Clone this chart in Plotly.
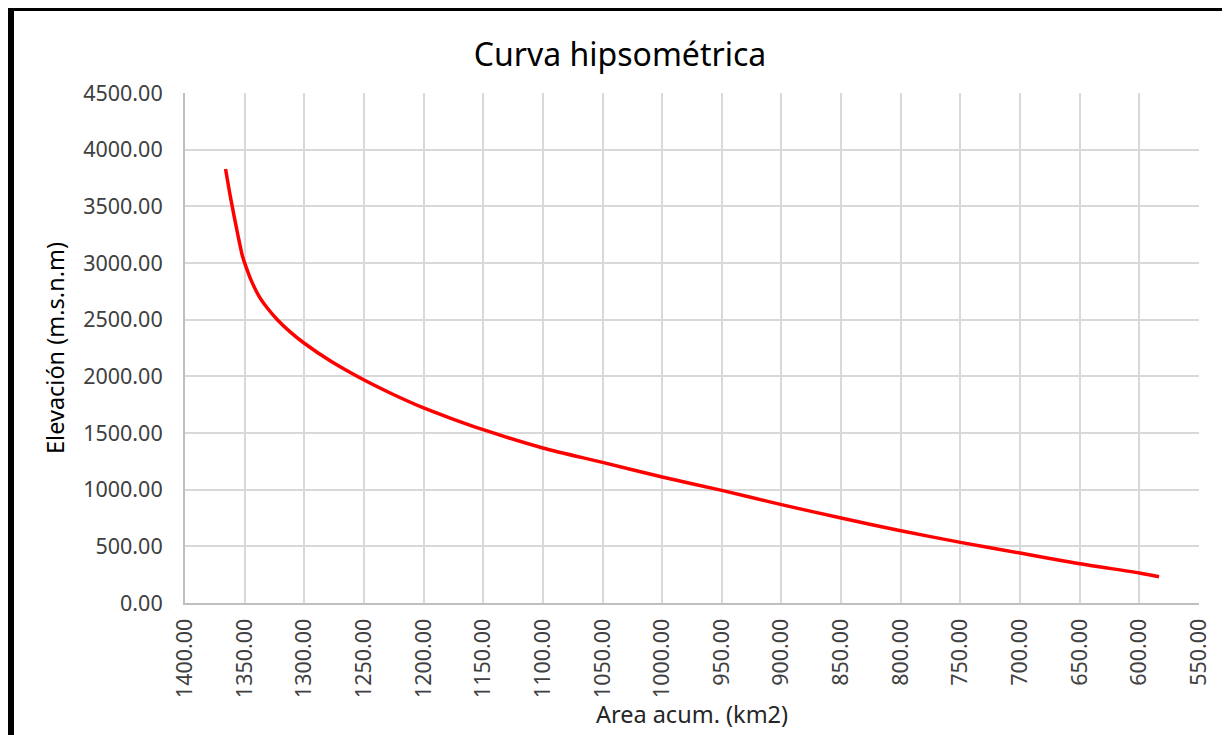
import plotly.graph_objects as go

# ─── Data (km2 vs m.s.n.m) ───────────────────────────────────────────────────
area_km2 = [1366, 1361.5, 1356, 1351.8, 1349, 1344.8, 1337.9, 1331, 1322.6,
            1311.4, 1300.3, 1278, 1253, 1228, 1200, 1177.7, 1150, 1100,
            1050, 1000, 950, 900, 850, 800, 750, 700, 650, 600, 583.5]
elevacion = [3830, 3559, 3265, 3059, 2971, 2853, 2706, 2603, 2500,
             2388, 2294, 2135, 1985, 1853, 1721, 1632, 1529, 1368,
             1241, 1112, 994, 868, 750, 638, 535, 441, 347, 265, 232]

x_ticks = [1400, 1350, 1300, 1250, 1200, 1150, 1100, 1050, 1000, 950,
           900, 850, 800, 750, 700, 650, 600, 550]
y_ticks = [0, 500, 1000, 1500, 2000, 2500, 3000, 3500, 4000, 4500]

LINE_COLOR = "#FF0000"
GRID_COLOR = "#D9D9D9"
AXIS_COLOR = "#BFBFBF"
TEXT_COLOR = "#404040"
FONT = "Noto Sans, Open Sans, sans-serif"

# the page puts the figure 8px in from the window edge
OFF = 8
W, H = 1230, 735
L, R, T, B = 185 - OFF, 31 + OFF, 93 - OFF, 132 + OFF
PW, PH = W - L - R, H - T - B


def px_to_paper(px, py):
    """Window pixel position -> paper coordinates (for the frame)."""
    return (px - OFF - L) / PW, (H - B - (py - OFF)) / PH


fig = go.Figure()
fig.add_trace(go.Scatter(
    x=area_km2, y=elevacion,
    mode="lines",
    line=dict(color=LINE_COLOR, width=3.5, shape="spline", smoothing=0.8),
    showlegend=False,
))

# black frame round the chart (open at the bottom, like the cropped screenshot)
x0, y0 = px_to_paper(11, 8)
x1, y1 = px_to_paper(1228.5, 780)

fig.update_layout(
    width=W, height=H,
    margin=dict(l=L, r=R, t=T, b=B),
    paper_bgcolor="white",
    plot_bgcolor="white",
    font=dict(family=FONT, color=TEXT_COLOR, size=21.5),
    title=dict(
        text="Curva hipsométrica",
        font=dict(family=FONT, size=32, color="#000000"),
        x=(620 - OFF) / W, xref="container", xanchor="center",
        y=1 - (55 - OFF) / H, yref="container", yanchor="middle",
    ),
    xaxis=dict(
        range=[1400, 550],
        tickvals=x_ticks, tickformat=".2f", tickangle=-90,
        showgrid=True, gridcolor=GRID_COLOR, gridwidth=2,
        showline=True, linecolor=AXIS_COLOR, linewidth=2,
        zeroline=False, ticks="", ticklabelstandoff=5,
        title=dict(text="Area acum. (km2)", font=dict(size=23.5, color="#262626"), standoff=9),
    ),
    yaxis=dict(
        range=[0, 4500],
        tickvals=y_ticks, tickformat=".2f",
        showgrid=True, gridcolor=GRID_COLOR, gridwidth=2,
        showline=True, linecolor=AXIS_COLOR, linewidth=2,
        zeroline=False, ticks="", ticklabelstandoff=16,
        title=dict(text="Elevación (m.s.n.m)", font=dict(size=23.5, color="#000000"), standoff=12),
    ),
    shapes=[dict(
        type="rect", xref="paper", yref="paper",
        x0=x0, y0=y1, x1=x1, y1=y0,
        line=dict(color="black", width=6),
        fillcolor="rgba(0,0,0,0)", layer="above",
    )],
)

fig.write_html("out.html")
